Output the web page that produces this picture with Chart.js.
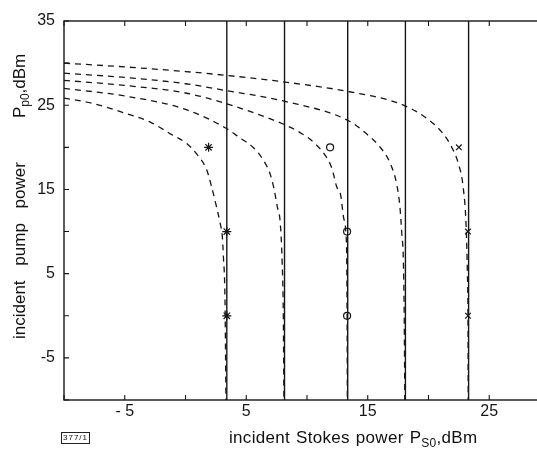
<!DOCTYPE html>
<html lang="en">
  <head>
    <meta charset="UTF-8" />
    <title>Incident pump power vs incident Stokes power</title>
    <script src="https://cdn.jsdelivr.net/npm/chart.js"></script>
    <style>
      body {
        margin: 0;
        background: #fff;
        width: 537px;
        height: 456px;
        overflow: hidden;
        position: relative;
        font-family: "Liberation Sans", Arial, sans-serif;
        color: #111;
      }
      #wrap { position: absolute; left: 0; top: 0; width: 560px; height: 456px; }
      .title-x {
        position: absolute; left: 229px; top: 428px;
        font-size: 17px; white-space: nowrap; word-spacing: 1px; letter-spacing: 0.3px;
      }
      .title-y {
        position: absolute; left: 10px; top: 339px;
        transform-origin: 0 0; transform: rotate(-90deg);
        font-size: 17px; white-space: nowrap; word-spacing: 10px;
      }
      .title-y .unit { margin-left: 44px; }
      sub { font-size: 12px; vertical-align: -4px; word-spacing: 0; }
      .code {
        position: absolute; left: 61px; top: 432px;
        font-size: 8px; line-height: 10px; border: 1px solid #222;
        padding: 0 1px; letter-spacing: 1px;
      }
    </style>
  </head>
  <body>
    <div id="wrap"><canvas id="chart" width="560" height="456"></canvas></div>
    <div class="title-y">incident pump power<span class="unit">P<sub>p0</sub>,dBm</span></div>
    <div class="title-x">incident Stokes power P<sub>S0</sub>,dBm</div>
    <div class="code">377/1</div>

    <script>
      // axis ranges
      var xMin = -10, xMax = 30;
      var yMin = -10, yMax = 35;

      // solid vertical lines (Stokes power limits)
      var limitX = [3.4, 8.15, 13.35, 18.1, 23.3];

      // dashed curves, [Ps0, Pp0], top to bottom
      var curveA = [[-10, 30.0], [-5, 29.55], [0, 29.0], [3.3, 28.55], [8.2, 27.75], [13.5, 26.6], [17.6, 25.2], [19.5, 23.8], [21.1, 21.8], [21.9, 20.05], [22.45, 18.1], [22.85, 15.3], [23.1, 10.5], [23.2, 5], [23.25, 0], [23.27, -10]];
      var curveB = [[-10, 28.8], [-5, 28.3], [0, 27.55], [3.3, 26.75], [8.2, 25.45], [13.5, 23.1], [14.9, 21.6], [16.0, 20.05], [16.85, 18.1], [17.4, 15.5], [17.65, 12.9], [17.8, 9.8], [17.93, 6.6], [18.0, 0], [18.05, -10]];
      var curveC = [[-10, 27.95], [-5, 27.35], [0, 26.45], [3.3, 25.2], [8.3, 22.6], [9.55, 21.65], [10.5, 20.65], [11.5, 19.05], [12.05, 17.5], [12.45, 15.3], [12.75, 14.5], [13.0, 11.75], [13.2, 9.8], [13.27, 6.6], [13.3, 0], [13.32, -10]];
      var curveD = [[-10, 27.0], [-5, 26.1], [0, 24.5], [3.3, 22.3], [4.5, 21.1], [5.6, 19.95], [6.4, 18.5], [6.95, 16.9], [7.25, 15.3], [7.55, 13.0], [7.8, 11.0], [7.95, 6.6], [8.05, 0], [8.1, -10]];
      var curveE = [[-10, 25.85], [-7.6, 25.2], [-4.85, 24.0], [-2.9, 23.0], [-1.3, 21.65], [0.1, 20.45], [0.9, 19.25], [1.75, 17.3], [2.15, 15.3], [2.55, 12.95], [2.85, 11.0], [3.03, 9.4], [3.12, 7.0], [3.25, 1.9], [3.33, -10]];

      // measured points
      var starPts = [[1.9, 20], [3.4, 10], [3.4, 0]];
      var circlePts = [[11.9, 20], [13.3, 10], [13.3, 0]];
      var crossPts = [[22.5, 20], [23.25, 10], [23.25, 0]];

      function toXY(arr) {
        return arr.map(function (p) { return { x: p[0], y: p[1] }; });
      }

      var ink = "#161616";
      var datasets = [];

      limitX.forEach(function (x) {
        datasets.push({
          data: [{ x: x, y: yMin }, { x: x, y: yMax }],
          borderColor: ink, borderWidth: 1.4, pointRadius: 0
        });
      });

      [curveA, curveB, curveC, curveD, curveE].forEach(function (c) {
        datasets.push({
          data: toXY(c),
          borderColor: ink, borderWidth: 1.3, borderDash: [6, 5],
          pointRadius: 0, cubicInterpolationMode: "monotone"
        });
      });

      function markers(pts, style, r) {
        return {
          data: toXY(pts), showLine: false,
          pointStyle: style, pointRadius: r,
          pointBorderColor: ink, pointBackgroundColor: "rgba(0,0,0,0)",
          pointBorderWidth: 1.2
        };
      }
      datasets.push(markers(starPts, "star", 4.5));
      datasets.push(markers(circlePts, "circle", 3.5));
      datasets.push(markers(crossPts, "crossRot", 4));

      // frame + inward tick marks
      var frame = {
        id: "frame",
        afterDraw: function (chart) {
          var ctx = chart.ctx, a = chart.chartArea;
          var xs = chart.scales.x, ys = chart.scales.y;
          ctx.save();
          ctx.strokeStyle = ink;
          ctx.lineWidth = 1.4;
          ctx.strokeRect(a.left, a.top, a.right - a.left, a.bottom - a.top);
          ctx.lineWidth = 1.1;
          ctx.beginPath();
          for (var v = xMin; v <= xMax; v += 5) {
            var px = xs.getPixelForValue(v);
            ctx.moveTo(px, a.bottom); ctx.lineTo(px, a.bottom - 5);
            ctx.moveTo(px, a.top); ctx.lineTo(px, a.top + 5);
          }
          for (var w = yMin; w <= yMax; w += 5) {
            var py = ys.getPixelForValue(w);
            ctx.moveTo(a.left, py); ctx.lineTo(a.left + 5, py);
            ctx.moveTo(a.right, py); ctx.lineTo(a.right - 5, py);
          }
          ctx.stroke();
          ctx.restore();
        }
      };

      function oddTens(v) { return Math.abs(v % 10) === 5; }

      new Chart(document.getElementById("chart"), {
        type: "line",
        data: { datasets: datasets },
        options: {
          responsive: false,
          animation: false,
          layout: { padding: { top: 21, right: 10, left: 0, bottom: 0 } },
          plugins: { legend: { display: false }, tooltip: { enabled: false } },
          scales: {
            x: {
              type: "linear", min: xMin, max: xMax,
              grid: { display: false, drawTicks: false },
              border: { display: false },
              ticks: {
                stepSize: 5, padding: 2, color: ink, maxRotation: 0,
                font: { family: "Liberation Sans", size: 16 },
                callback: function (v) {
                  if (!oddTens(v)) return "";
                  return v < 0 ? "- " + Math.abs(v) : String(v);
                }
              },
              afterFit: function (s) { s.height = 56; }
            },
            y: {
              type: "linear", min: yMin, max: yMax,
              grid: { display: false, drawTicks: false },
              border: { display: false },
              ticks: {
                stepSize: 5, padding: 9, color: ink,
                font: { family: "Liberation Sans", size: 16 },
                callback: function (v) { return oddTens(v) ? String(v) : ""; }
              },
              afterFit: function (s) { s.width = 64; }
            }
          }
        },
        plugins: [frame]
      });
    </script>
  </body>
</html>
